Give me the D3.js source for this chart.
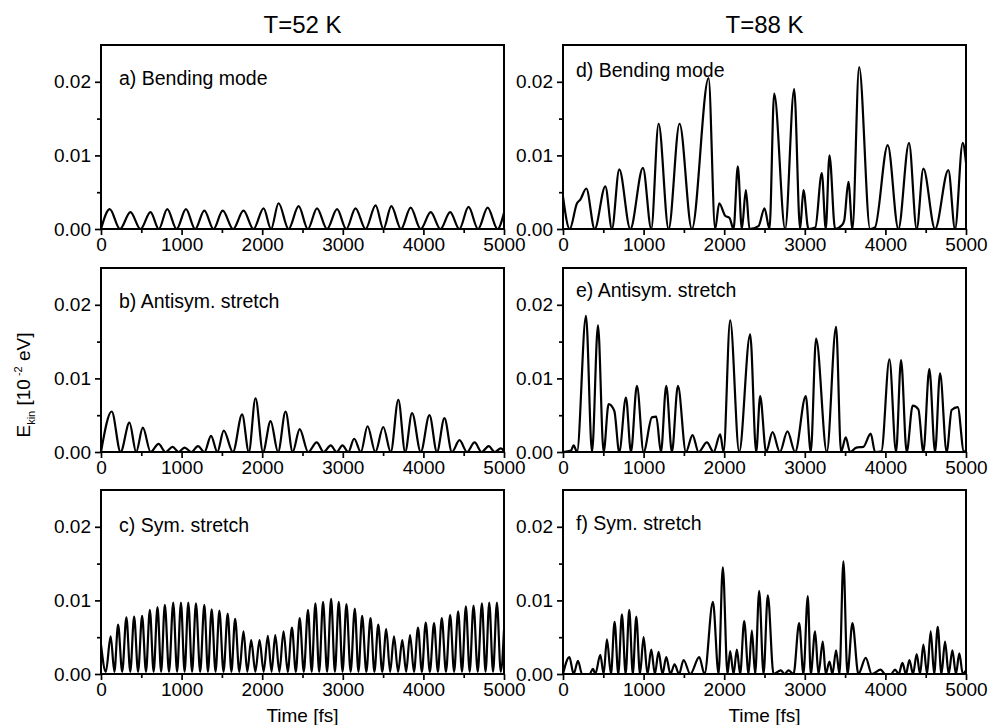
<!DOCTYPE html>
<html>
<head>
<meta charset="utf-8">
<script src="https://cdn.jsdelivr.net/npm/d3@7"></script>
<style>
  body { margin: 0; background: #fff; }
  svg { display: block; }
  text { font-family: "Liberation Sans", Arial, Helvetica, sans-serif; fill: #000; }
</style>
</head>
<body>
<svg id="chart" width="989" height="725"></svg>
<script>
// values: extrema (peaks and troughs) of E_kin vs time [fs]
const aTime = [0,108,236,365,490,614,718,822,938,1054,1168,1282,1396,1510,1639,1768,1892,2017,2110,2203,2327,2452,2566,2680,2804,2929,3043,3158,3282,3407,3504,3602,3722,3842,3966,4091,4211,4332,4446,4560,4678,4797,4920,5000];
const aEkin = [0,0.0027,0,0.0023,0,0.0023,0,0.0027,0,0.0027,0,0.0025,0,0.0025,0,0.0025,0,0.0028,0,0.0035,0,0.0031,0,0.0028,0,0.0027,0,0.0028,0,0.0032,0,0.0031,0,0.0029,0,0.0023,0,0.0023,0,0.0030,0,0.0029,0,0.0022];

const bTime = [0,133,243,353,436,519,616,714,800,888,962,1037,1120,1203,1284,1365,1444,1523,1637,1751,1834,1917,2010,2104,2197,2290,2378,2465,2570,2676,2763,2851,2923,2996,3068,3141,3224,3307,3404,3502,3595,3689,3774,3859,3967,4075,4168,4261,4354,4448,4541,4635,4722,4810,4885,4960,5000];
const bEkin = [0,0.0055,0,0.0040,0,0.0033,0,0.0011,0,0.0007,0,0.0006,0,0.0008,0,0.0022,0,0.0029,0,0.0051,0,0.0073,0,0.0042,0,0.0055,0,0.0031,0,0.0013,0,0.0009,0,0.0009,0,0.0018,0,0.0035,0,0.0034,0,0.0071,0,0.0053,0,0.0050,0,0.0046,0,0.0016,0,0.0013,0,0.0008,0,0.0005,0.0001];

const cTime = [0,60,120,166,212,263,315,363,411,460,510,558,606,653,701,746,792,844,896,944,992,1037,1083,1130,1178,1230,1282,1327,1373,1421,1469,1520,1572,1618,1664,1716,1768,1815,1863,1915,1967,2018,2070,2116,2162,2213,2265,2317,2369,2417,2465,2516,2568,2614,2660,2707,2755,2805,2855,2902,2950,2997,3045,3097,3149,3194,3240,3292,3344,3392,3440,3489,3539,3587,3635,3686,3738,3786,3834,3883,3933,3981,4029,4080,4132,4180,4228,4280,4332,4381,4431,4479,4527,4574,4622,4674,4726,4771,4817,4864,4912,4960,5000];
const cEkin = [0.0040,0.0003,0.0051,0.0003,0.0067,0.0003,0.0077,0.0003,0.0078,0.0003,0.0079,0.0003,0.0087,0.0003,0.0091,0.0003,0.0094,0.0003,0.0097,0.0003,0.0097,0.0003,0.0097,0.0003,0.0096,0.0003,0.0094,0.0003,0.0088,0.0003,0.0086,0.0003,0.0082,0.0003,0.0075,0.0003,0.0058,0.0003,0.0046,0.0003,0.0046,0.0003,0.0052,0.0003,0.0053,0.0003,0.0058,0.0003,0.0063,0.0003,0.0076,0.0003,0.0087,0.0003,0.0096,0.0003,0.0098,0.0003,0.0102,0.0003,0.0098,0.0003,0.0095,0.0003,0.0089,0.0003,0.0079,0.0003,0.0076,0.0003,0.0067,0.0003,0.0061,0.0003,0.0051,0.0003,0.0046,0.0003,0.0053,0.0003,0.0063,0.0003,0.0070,0.0003,0.0069,0.0003,0.0076,0.0003,0.0080,0.0003,0.0085,0.0003,0.0092,0.0003,0.0093,0.0003,0.0096,0.0003,0.0097,0.0003,0.0097,0.0003,0.0060];

const dTime = [0,83,174,215,289,393,525,607,698,835,992,1095,1186,1310,1446,1599,1806,1888,1938,2012,2066,2116,2169,2219,2269,2314,2426,2500,2562,2620,2756,2868,2942,2983,3045,3130,3211,3260,3306,3376,3459,3490,3541,3591,3674,3810,3870,4029,4161,4293,4388,4471,4616,4781,4864,4959,5000];
const dEkin = [0.0044,0,0.0035,0.0040,0.0055,0,0.0058,0,0.0081,0,0.0083,0,0.0143,0,0.0143,0,0.0205,0,0.0035,0.0018,0.0015,0,0.0085,0,0.0053,0,0.0004,0.0028,0,0.0184,0,0.0190,0,0.0053,0,0.0002,0.0076,0,0.0100,0,0.0005,0.0012,0.0064,0,0.0220,0,0.0002,0.0114,0,0.0117,0,0.0082,0,0.0080,0,0.0117,0.0090];

const eTime = [0,100,132,174,285,360,434,504,566,636,698,781,843,917,1000,1103,1157,1215,1281,1351,1426,1525,1607,1682,1785,1868,1950,1992,2074,2186,2322,2397,2446,2520,2600,2690,2785,2880,3012,3074,3140,3273,3388,3450,3508,3562,3640,3727,3818,3872,3950,4050,4132,4194,4264,4339,4409,4471,4545,4616,4678,4760,4822,4897,4975,5000];
const eEkin = [0,0.0002,0.0009,0,0.0185,0,0.0172,0,0.0065,0.0056,0,0.0074,0,0.0090,0,0.0047,0.0048,0,0.0090,0,0.0090,0,0.0023,0,0.0013,0,0.0024,0,0.0179,0,0.0160,0,0.0076,0,0.0027,0,0.0028,0,0.0076,0,0.0154,0,0.0170,0,0.0020,0,0.0006,0.0007,0.0025,0,0.0001,0.0126,0,0.0125,0,0.0063,0.0058,0,0.0113,0,0.0107,0,0.0057,0.0061,0,0.0003];

const fTime = [0,79,132,186,236,330,372,401,463,504,545,595,640,686,731,777,822,866,909,955,1000,1048,1095,1140,1186,1234,1281,1333,1384,1440,1496,1579,1690,1756,1860,1930,1983,2041,2074,2116,2157,2198,2248,2302,2343,2384,2434,2488,2541,2612,2702,2750,2798,2860,2930,2983,3037,3074,3128,3169,3223,3260,3306,3343,3388,3430,3479,3529,3591,3665,3756,3831,3942,3996,4070,4120,4165,4211,4255,4298,4343,4388,4430,4471,4517,4562,4605,4649,4695,4740,4785,4831,4875,4917,4960,5000];
const fEkin = [0,0.0023,0,0.0018,0,0,0.0007,0,0.0026,0,0.0047,0,0.0071,0,0.0081,0,0.0087,0,0.0078,0,0.0050,0,0.0033,0,0.0030,0,0.0023,0,0.0013,0,0.0019,0,0.0023,0,0.0098,0,0.0145,0,0.0031,0,0.0033,0,0.0072,0,0.0059,0,0.0113,0,0.0107,0,0.0005,0,0.0005,0,0.0069,0,0.0106,0,0.0058,0,0.0044,0,0.0017,0,0.0032,0,0.0153,0,0.0069,0,0.0022,0,0.0006,0,0,0.0006,0,0.0015,0,0.0019,0,0.0027,0,0.0040,0,0.0058,0,0.0064,0,0.0044,0,0.0032,0,0.0028,0,0.0005];

const columnTitles = ["T=52 K", "T=88 K"];
const panelLabels = ["a) Bending mode", "b) Antisym. stretch", "c) Sym. stretch",
                     "d) Bending mode", "e) Antisym. stretch", "f) Sym. stretch"];
const xTicks = [0, 1000, 2000, 3000, 4000, 5000];
const xMinorTicks = [500, 1500, 2500, 3500, 4500];
const yTicks = [0, 0.01, 0.02];
const yMinorTicks = [0.005, 0.015];

const series = [
  [aTime, aEkin], [bTime, bEkin], [cTime, cEkin],
  [dTime, dEkin], [eTime, eEkin], [fTime, fEkin]
];

const svg = d3.select("#chart");
svg.append("rect").attr("width", 989).attr("height", 725).attr("fill", "#fff");

const colX = [101, 563];
const rowY = [45, 268, 490];
const pw = 403, ph = 184;

const x = d3.scaleLinear().domain([0, 5000]).range([0, pw]);
const y = d3.scaleLinear().domain([0, 0.025]).range([ph, 0]);

const line = d3.line()
  .x(d => x(d[0]))
  .y(d => y(d[1]))
  .curve(d3.curveMonotoneX);

const labelDy = [[3, 3, 5], [-5, -8, 3]];

series.forEach((s, i) => {
  const col = Math.floor(i / 3), row = i % 3;
  const g = svg.append("g").attr("transform", `translate(${colX[col]},${rowY[row]})`);

  const pts = s[0].map((t, k) => [t, s[1][k]]);
  g.append("path")
    .attr("d", line(pts))
    .attr("fill", "none")
    .attr("stroke", "#000")
    .attr("stroke-width", 2.2)
    .attr("stroke-linejoin", "round");

  g.append("g").attr("transform", `translate(0,${ph})`)
    .call(d3.axisBottom(x).tickValues(xTicks).tickSize(6).tickPadding(3).tickFormat(d3.format("d")));
  g.append("g").attr("transform", `translate(0,${ph})`)
    .call(d3.axisBottom(x).tickValues(xMinorTicks).tickSize(4).tickFormat(""));
  g.append("g")
    .call(d3.axisLeft(y).tickValues(yTicks).tickSize(6).tickPadding(4).tickFormat(d3.format(".2f")));
  g.append("g")
    .call(d3.axisLeft(y).tickValues(yMinorTicks).tickSize(4).tickFormat(""));

  g.selectAll(".domain").remove();
  g.selectAll(".tick line").attr("stroke", "#000").attr("stroke-width", 1.7);
  g.selectAll(".tick text").style("font-size", "19px").style("font-family", "Liberation Sans, Arial, sans-serif");

  g.append("rect")
    .attr("width", pw).attr("height", ph)
    .attr("fill", "none").attr("stroke", "#000").attr("stroke-width", 2);

  g.append("text")
    .attr("x", col === 0 ? 18 : 13)
    .attr("y", y(0.02) + labelDy[col][row])
    .style("font-size", "19.5px")
    .text(panelLabels[i]);

  if (row === 2) {
    g.append("text")
      .attr("x", pw / 2).attr("y", ph + 48)
      .attr("text-anchor", "middle")
      .style("font-size", "19px")
      .text("Time [fs]");
  }
});

columnTitles.forEach((t, col) => {
  svg.append("text")
    .attr("x", colX[col] + pw / 2).attr("y", 33)
    .attr("text-anchor", "middle")
    .style("font-size", "24px")
    .text(t);
});

const yl = svg.append("text")
  .attr("transform", "translate(30,385) rotate(-90)")
  .attr("text-anchor", "middle")
  .style("font-size", "19px");
yl.append("tspan").text("E");
yl.append("tspan").attr("dy", 5).style("font-size", "11px").text("kin");
yl.append("tspan").attr("dy", -5).text(" [10");
yl.append("tspan").attr("dy", -8).style("font-size", "11px").text(" -2");
yl.append("tspan").attr("dy", 8).text(" eV]");
</script>
</body>
</html>
